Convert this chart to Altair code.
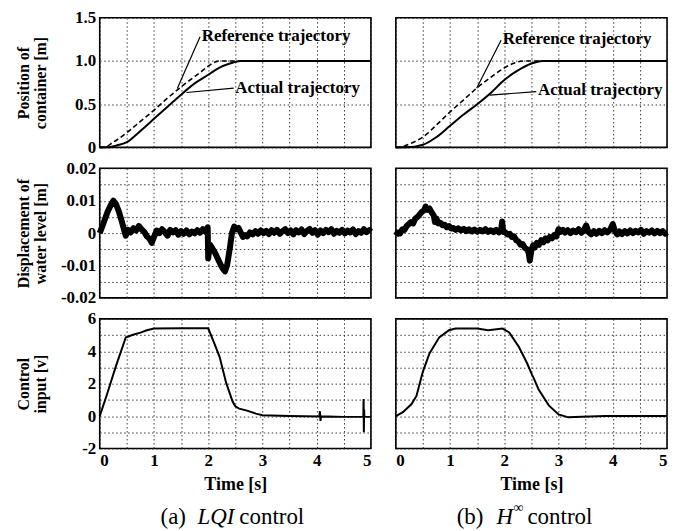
import altair as alt
import pandas as pd

FONT = "Liberation Serif"
W, H = 272, 130

# ---------------- axis values ----------------
x_grid = [0, 0.5, 1, 1.5, 2, 2.5, 3, 3.5, 4, 4.5, 5]
pos_grid = [0, 0.5, 1.0, 1.5]
wl_grid = [-0.02, -0.015, -0.01, -0.005, 0, 0.005, 0.01, 0.015, 0.02]
u_grid = [-2, -1, 0, 1, 2, 3, 4, 5, 6]

# ---------------- position of container [m] ----------------
t_ref_lqi = [0, 0.07, 0.25, 0.5, 0.75, 1.0, 1.25, 1.5, 1.75, 1.9, 2.0, 2.1, 2.2, 5.0]
v_ref_lqi = [0, 0, 0.06, 0.17, 0.30, 0.43, 0.57, 0.70, 0.82, 0.89, 0.94, 0.98, 1.0, 1.0]
t_act_lqi = [0, 0.15, 0.3, 0.5, 0.75, 1.0, 1.25, 1.5, 1.75, 2.0, 2.2, 2.4, 2.6, 5.0]
v_act_lqi = [0, 0, 0.02, 0.06, 0.19, 0.33, 0.47, 0.61, 0.74, 0.84, 0.92, 0.97, 1.0, 1.0]

t_ref_h = [0, 0.07, 0.25, 0.5, 0.75, 1.0, 1.25, 1.5, 1.75, 2.0, 2.2, 2.4, 5.0]
v_ref_h = [0, 0, 0.04, 0.12, 0.26, 0.41, 0.55, 0.69, 0.81, 0.92, 0.98, 1.0, 1.0]
t_act_h = [0, 0.2, 0.5, 0.75, 1.0, 1.25, 1.5, 1.75, 2.0, 2.25, 2.5, 2.7, 5.0]
v_act_h = [0, 0, 0.03, 0.12, 0.25, 0.38, 0.50, 0.63, 0.78, 0.89, 0.97, 1.0, 1.0]

# annotation labels (text anchor t, v) and leader lines (t, v -> t2, v2)
ann_labels = ["Reference trajectory", "Actual trajectory"]
ann_t_lqi = [1.88, 2.50]
ann_v_lqi = [1.29, 0.685]
lead_lqi = {"t": [1.85, 2.47], "v": [1.28, 0.685], "t2": [1.43, 1.60], "v2": [0.68, 0.635]}
ann_t_h = [1.97, 2.62]
ann_v_h = [1.25, 0.66]
lead_h = {"t": [1.94, 2.59], "v": [1.24, 0.645], "t2": [1.49, 1.73], "v2": [0.685, 0.605]}

# ---------------- displacement of water level [m] ----------------
wl_lqi = [
    (0.00, 0.0000), (0.05, 0.0022), (0.10, 0.0045), (0.15, 0.0068), (0.20, 0.0085),
    (0.25, 0.0100), (0.30, 0.0090), (0.35, 0.0068), (0.40, 0.0040), (0.45, 0.0010),
    (0.48, -0.0008), (0.52, 0.0010), (0.57, 0.0002), (0.62, 0.0015), (0.67, 0.0008),
    (0.72, 0.0022), (0.77, 0.0012), (0.82, 0.0004), (0.87, -0.0010), (0.92, -0.0018),
    (0.96, -0.0030), (1.00, -0.0012), (1.05, 0.0008), (1.10, 0.0000), (1.15, 0.0012),
    (1.20, 0.0003), (1.25, -0.0008), (1.30, 0.0010), (1.35, 0.0002), (1.40, 0.0009),
    (1.45, -0.0005), (1.50, 0.0006), (1.55, -0.0002), (1.60, 0.0008), (1.65, -0.0004),
    (1.70, 0.0005), (1.75, -0.0001), (1.80, 0.0009), (1.85, 0.0001), (1.90, 0.0012),
    (1.95, 0.0004), (1.99, 0.0018), (2.00, -0.0078), (2.03, -0.0035), (2.08, -0.0048),
    (2.13, -0.0062), (2.18, -0.0080), (2.23, -0.0098), (2.28, -0.0112), (2.31, -0.0118),
    (2.35, -0.0098), (2.40, -0.0045), (2.44, 0.0002), (2.48, 0.0020), (2.52, 0.0012),
    (2.56, 0.0016), (2.60, 0.0002), (2.64, -0.0012), (2.68, -0.0006), (2.72, -0.0010),
    (2.77, 0.0002), (2.82, -0.0004), (2.87, 0.0006), (2.92, -0.0002), (2.97, 0.0008),
    (3.02, 0.0000), (3.07, 0.0007), (3.12, -0.0003), (3.17, 0.0009), (3.22, 0.0001),
    (3.27, 0.0010), (3.32, -0.0002), (3.37, 0.0006), (3.42, 0.0012), (3.47, 0.0000),
    (3.52, 0.0008), (3.57, -0.0004), (3.62, 0.0009), (3.67, 0.0002), (3.72, 0.0011),
    (3.77, -0.0003), (3.82, 0.0007), (3.87, 0.0013), (3.92, 0.0001), (3.97, 0.0009),
    (4.02, -0.0005), (4.07, 0.0008), (4.12, 0.0000), (4.17, 0.0010), (4.22, 0.0003),
    (4.27, 0.0012), (4.32, -0.0002), (4.37, 0.0007), (4.42, 0.0001), (4.47, 0.0010),
    (4.52, -0.0001), (4.57, 0.0008), (4.62, 0.0002), (4.67, 0.0011), (4.72, -0.0003),
    (4.77, 0.0006), (4.82, 0.0001), (4.87, 0.0012), (4.92, 0.0003), (4.97, 0.0009),
    (5.00, 0.0004),
]
wl_h = [
    (0.00, -0.0008), (0.04, 0.0002), (0.08, -0.0001), (0.12, 0.0012), (0.16, 0.0010),
    (0.20, 0.0022), (0.24, 0.0028), (0.28, 0.0034), (0.32, 0.0030), (0.36, 0.0045),
    (0.40, 0.0050), (0.44, 0.0058), (0.48, 0.0066), (0.52, 0.0070), (0.55, 0.0082),
    (0.58, 0.0072), (0.62, 0.0076), (0.66, 0.0064), (0.70, 0.0054), (0.72, 0.0034),
    (0.75, 0.0045), (0.78, 0.0030), (0.82, 0.0032), (0.86, 0.0024), (0.90, 0.0026),
    (0.94, 0.0018), (0.98, 0.0022), (1.02, 0.0014), (1.06, 0.0016), (1.10, 0.0010),
    (1.15, 0.0015), (1.20, 0.0008), (1.25, 0.0013), (1.30, 0.0006), (1.35, 0.0012),
    (1.40, 0.0005), (1.45, 0.0011), (1.50, 0.0004), (1.55, 0.0010), (1.60, 0.0005),
    (1.65, 0.0012), (1.70, 0.0004), (1.75, 0.0009), (1.80, 0.0003), (1.85, 0.0010),
    (1.90, 0.0002), (1.94, 0.0008), (1.96, 0.0036), (1.98, 0.0004), (2.02, 0.0002),
    (2.06, -0.0004), (2.10, -0.0002), (2.14, -0.0012), (2.18, -0.0010), (2.22, -0.0022),
    (2.26, -0.0026), (2.30, -0.0036), (2.34, -0.0034), (2.38, -0.0046), (2.42, -0.0050),
    (2.45, -0.0062), (2.47, -0.0085), (2.50, -0.0052), (2.53, -0.0038), (2.56, -0.0044),
    (2.60, -0.0030), (2.64, -0.0036), (2.68, -0.0022), (2.72, -0.0028), (2.76, -0.0016),
    (2.80, -0.0022), (2.84, -0.0012), (2.88, -0.0016), (2.92, -0.0006), (2.96, -0.0010),
    (3.00, 0.0012), (3.04, 0.0004), (3.08, 0.0010), (3.12, 0.0002), (3.17, 0.0009),
    (3.22, 0.0000), (3.27, 0.0008), (3.32, 0.0003), (3.37, 0.0012), (3.42, 0.0001),
    (3.47, 0.0010), (3.51, 0.0024), (3.55, 0.0004), (3.60, -0.0004), (3.65, 0.0006),
    (3.70, -0.0002), (3.75, 0.0007), (3.80, 0.0000), (3.85, 0.0009), (3.90, 0.0002),
    (3.95, 0.0010), (4.00, 0.0028), (4.04, 0.0006), (4.08, -0.0004), (4.12, 0.0005),
    (4.17, -0.0003), (4.22, 0.0006), (4.27, -0.0001), (4.32, 0.0008), (4.37, 0.0000),
    (4.42, 0.0007), (4.47, 0.0002), (4.52, 0.0010), (4.57, -0.0002), (4.62, 0.0006),
    (4.67, 0.0001), (4.72, 0.0008), (4.77, -0.0001), (4.82, 0.0007), (4.87, 0.0000),
    (4.92, 0.0006), (4.97, -0.0002), (5.00, 0.0002),
]

# ---------------- control input [v] ----------------
t_u_lqi = [0, 0.13, 0.3, 0.48, 0.6, 0.75, 0.87, 1.0, 1.5, 2.0, 2.1, 2.21, 2.33, 2.45, 2.5,
           2.57, 2.7, 2.88, 3.0, 3.5, 4.05, 4.06, 4.07, 4.08, 4.5, 4.86, 4.865, 4.87, 4.875, 4.88, 5.0]
v_u_lqi = [0, 1.3, 3.1, 4.85, 5.0, 5.15, 5.3, 5.4, 5.42, 5.42, 4.6, 3.66, 2.06, 0.9, 0.6,
           0.46, 0.35, 0.15, 0.05, 0.0, -0.02, 0.3, -0.3, -0.02, -0.05, -0.05, 1.05, -1.0, 0.4, -0.05, -0.05]
t_u_h = [0, 0.13, 0.29, 0.38, 0.5, 0.62, 0.8, 0.98, 1.1, 1.5, 1.7, 1.97, 2.09, 2.27, 2.42, 2.51,
         2.54, 2.63, 2.82, 3.0, 3.18, 3.43, 3.86, 5.0]
v_u_h = [0, 0.24, 0.74, 1.24, 2.76, 3.86, 4.86, 5.3, 5.4, 5.4, 5.3, 5.4, 5.16, 4.26, 3.26, 2.56,
         2.36, 1.66, 0.66, 0.1, -0.08, -0.04, 0, 0]

# captions
cap_a = ["(a)", "LQI", "control"]
cap_b = ["(b)", "H", "\u221e", "control"]


def x_enc(bottom):
    if bottom:
        ax = alt.Axis(values=x_grid,
                      labelExpr="datum.value % 1 == 0 ? format(datum.value, 'd') : ''",
                      title="Time [s]", titleFontSize=18, titleY=27, titleBaseline="top")
    else:
        ax = alt.Axis(values=x_grid, labels=False, title=None)
    return alt.X("t:Q", scale=alt.Scale(domain=[0, 5], nice=False, zero=False), axis=ax)


def y_enc(domain, grid, label_expr, title, left):
    if left:
        ax = alt.Axis(values=grid, labelExpr=label_expr, title=title, titleX=-68,
                      titleY=H / 2, titleAngle=-90, titleBaseline="bottom", titleAlign="center")
    else:
        ax = alt.Axis(values=grid, labels=False, title=None)
    return alt.Y("v:Q", scale=alt.Scale(domain=domain, nice=False, zero=False), axis=ax)


POS_EXPR = "datum.value == 0 ? '0' : format(datum.value, '.1f')"
WL_EXPR = ("abs(datum.value * 100 - round(datum.value * 100)) < 0.001 ? "
           "(datum.value == 0 ? '0' : replace(format(datum.value, '.2f'), '\u2212', '-')) : ''")
U_EXPR = "datum.value % 2 == 0 ? replace(format(datum.value, 'd'), '\u2212', '-') : ''"


def pos_panel(t_ref, v_ref, t_act, v_act, at, av, lead, left):
    X = x_enc(False)
    Y = y_enc([0, 1.5], pos_grid, POS_EXPR, ["Position of", "container [m]"], left)
    ref = alt.Chart(pd.DataFrame({"t": t_ref, "v": v_ref})).mark_line(
        color="black", strokeDash=[5, 3], strokeWidth=1.6, interpolate="monotone").encode(x=X, y=Y)
    act = alt.Chart(pd.DataFrame({"t": t_act, "v": v_act})).mark_line(
        color="black", strokeWidth=2, interpolate="monotone").encode(x=X, y=Y)
    rules = alt.Chart(pd.DataFrame(lead)).mark_rule(color="black", strokeWidth=1.2).encode(
        x=X, y=Y, x2="t2:Q", y2="v2:Q")
    txt = alt.Chart(pd.DataFrame({"t": at, "v": av, "label": ann_labels})).mark_text(
        align="left", baseline="middle", font=FONT, fontSize=17, fontWeight="bold",
        color="black").encode(x=X, y=Y, text="label:N")
    return alt.layer(ref, act, rules, txt).properties(width=W, height=H)


def wl_panel(pairs, left):
    X = x_enc(False)
    Y = y_enc([-0.02, 0.02], wl_grid, WL_EXPR, ["Displacement of", "water level [m]"], left)
    df = pd.DataFrame(pairs, columns=["t", "v"])
    ln = alt.Chart(df).mark_line(color="black", strokeWidth=6, strokeJoin="round").encode(x=X, y=Y)
    return alt.layer(ln).properties(width=W, height=H)


def cap_text(text, x, y, size=23, style="normal"):
    return alt.Chart(pd.DataFrame({"k": [0]})).mark_text(
        align="left", baseline="middle", font=FONT, fontSize=size, fontStyle=style,
        color="black").encode(x=alt.value(x), y=alt.value(y), text=alt.value(text))


def u_panel(t, v, left, caption_layers):
    X = x_enc(True)
    Y = y_enc([-2, 6], u_grid, U_EXPR, ["Control", "input [v]"], left)
    ln = alt.Chart(pd.DataFrame({"t": t, "v": v})).mark_line(
        color="black", strokeWidth=2).encode(x=X, y=Y)
    return alt.layer(ln, *caption_layers).properties(width=W, height=H)


CY = 199
caps_a = [cap_text(cap_a[0], 61, CY), cap_text(cap_a[1], 98, CY, style="italic"),
          cap_text(cap_a[2], 140, CY)]
caps_b = [cap_text(cap_b[0], 61, CY), cap_text(cap_b[1], 101, CY, style="italic"),
          cap_text(cap_b[2], 118, CY - 9, size=14), cap_text(cap_b[3], 132, CY)]

tl = pos_panel(t_ref_lqi, v_ref_lqi, t_act_lqi, v_act_lqi, ann_t_lqi, ann_v_lqi, lead_lqi, True)
tr = pos_panel(t_ref_h, v_ref_h, t_act_h, v_act_h, ann_t_h, ann_v_h, lead_h, False)
ml = wl_panel(wl_lqi, True)
mr = wl_panel(wl_h, False)
bl = u_panel(t_u_lqi, v_u_lqi, True, caps_a)
br = u_panel(t_u_h, v_u_h, False, caps_b)

chart = alt.concat(
    tl, tr, ml, mr, bl, br, columns=2,
    spacing=alt.RowColnumber(row=2, column=15),
).properties(
    padding={"left": 7, "top": -1, "right": 5, "bottom": 0},
).configure_view(
    stroke="black", strokeWidth=1.6,
).configure_axis(
    ticks=False, domain=False, grid=True, gridColor="#222", gridDash=[1.5, 2.5],
    gridWidth=0.9, labelFont=FONT, labelFontSize=17, labelFontWeight="bold",
    labelColor="black", labelPadding=4, titleFont=FONT, titleFontSize=16,
    titleFontWeight="bold", titleColor="black", titleLineHeight=17,
)

chart.save("out.html", embed_options={"renderer": "svg", "actions": False})
